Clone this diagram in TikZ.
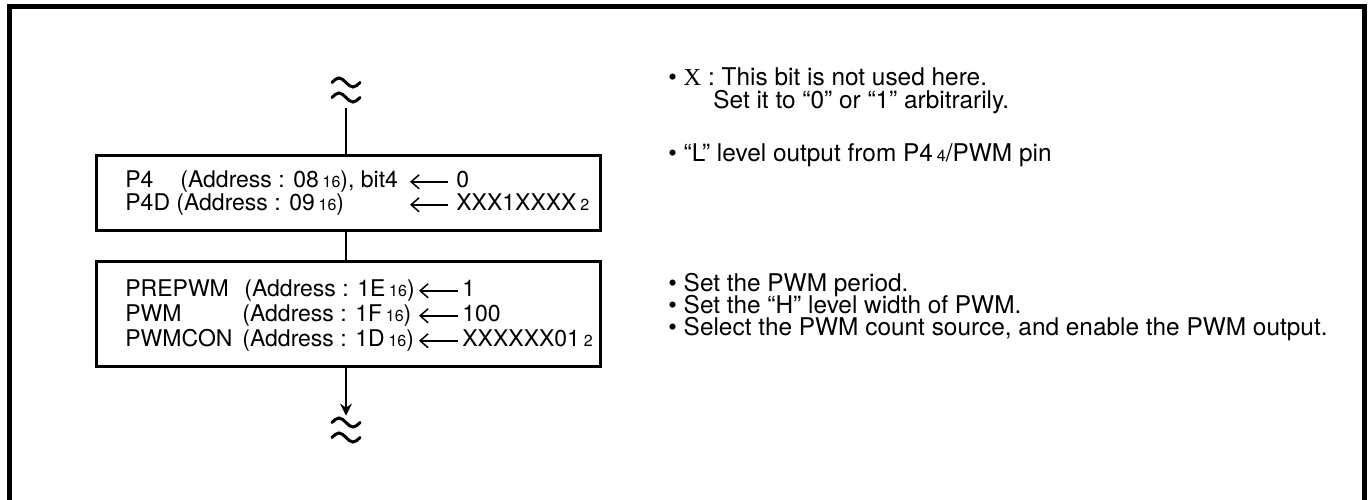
\documentclass[tikz,border=0pt]{standalone}
\usepackage{fontspec}
\setmainfont{TeX Gyre Heros}
\newfontfamily\serifx{Liberation Serif}
\usetikzlibrary{arrows.meta}
\newcommand\lowsub[1]{\,{\fontsize{8}{8}\selectfont #1}}
\newcommand\sixteen{\lowsub{16}}

\begin{document}
\begin{tikzpicture}[x=0.5pt,y=-0.5pt,
  txt/.style={inner sep=0pt,anchor=base west},
  note/.style={txt,font=\fontsize{12.2}{14}\selectfont},
  regbox/.style={draw,line width=1.5pt,minimum width=252pt,inner sep=0pt},
  brk/.style={minimum width=15pt,minimum height=18pt,inner sep=0pt},
  tilde/.style={line width=1.5pt,line cap=round},
  conn/.style={line width=0.8pt},
  larr/.style={line width=0.75pt,-{Straight Barb[length=4pt,width=7pt]}},
  font=\fontsize{11.5}{13}\selectfont]
  \useasboundingbox (0,0) rectangle (1372,499);
  \draw[line width=2.5pt] (9.5,520) -- (9.5,6.5) -- (1364.5,6.5) -- (1364.5,520);

  \node[regbox,minimum height=37.5pt] (box1) at (348,192.5) {};
  \node[regbox,minimum height=52.5pt] (box2) at (348,313.5) {};
  \node[brk] (brkT) at (346,90) {};
  \node[brk] (brkB) at (346,430) {};
  \foreach \n in {brkT,brkB}
    \foreach \dy in {-7.5,7.5}
      \draw[tilde] ([shift={(-14,\dy)}]\n.center) sin ++(7,-4.5) cos ++(7,4.5) sin ++(7,4.5) cos ++(7,-4.5);
  \draw[conn] (brkT.south) -- (brkT.south |- box1.north);
  \draw[conn] (brkT.south |- box1.south) -- (brkT.south |- box2.north);
  \draw[conn,-{Stealth[length=6pt,width=6pt,inset=2pt]},shorten >=-2pt] (brkT.south |- box2.south) -- (brkB.north);

  \node[txt] (n1) at (125,187) {P4};
  \node[txt] (a1) at (180,187) {(Address : 08\sixteen), bit4};
  \node[txt] (v1) at (456,187) {0};
  \node[txt] (n2) at (125,210) {P4D};
  \node[txt] (a2) at (176,210) {(Address : 09\sixteen)};
  \node[txt] (v2) at (456,210) {XXX1XXXX\lowsub{2}};
  \draw[larr] ([xshift=-4pt]v1.mid west) -- ++(-38,0);
  \draw[larr] ([xshift=-4pt]v2.mid west) -- ++(-38,0);

  \node[txt] (n3) at (125,296) {PREPWM};
  \node[txt] (a3) at (244,296) {(Address : 1E\sixteen)};
  \node[txt] (v3) at (462,296) {1};
  \node[txt] (n4) at (125,321) {PWM};
  \node[txt] (a4) at (242,321) {(Address : 1F\sixteen)};
  \node[txt] (v4) at (462,321) {100};
  \node[txt] (n5) at (125,346) {PWMCON};
  \node[txt] (a5) at (242,346) {(Address : 1D\sixteen)};
  \node[txt] (v5) at (462,346) {XXXXXX01\lowsub{2}};
  \draw[larr] ([xshift=-2pt]v3.mid west) -- ++(-39,0);
  \draw[larr] ([xshift=-2pt]v4.mid west) -- ++(-39,0);
  \draw[larr] ([xshift=-2pt]v5.mid west) -- ++(-39,0);

  \node[note] (c1) at (668,85) {• {\serifx X} : This bit is not used here.};
  \node[note] (c2) at (713,108) {Set it to “0” or “1” arbitrarily.};
  \node[note] (c3) at (668,161) {• “L” level output from P4\lowsub{4}/PWM pin};
  \node[note] (c4) at (668,291) {• Set the PWM period.};
  \node[note] (c5) at (668,313) {• Set the “H” level width of PWM.};
  \node[note] (c6) at (668,335) {• Select the PWM count source, and enable the PWM output.};
\end{tikzpicture}
\end{document}
